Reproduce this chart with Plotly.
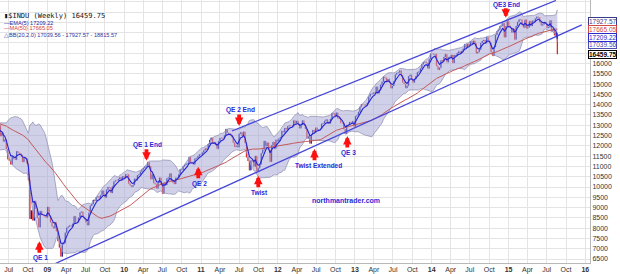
import pandas as pd
import numpy as np
import plotly.graph_objects as go

# ---------------- data (weekly closes, $INDU) ----------------
start_week = "2007-06-08"      # first weekly close (warm-up for the indicators)
visible_from = "2008-05-16"

closes_warmup = [13424, 13639, 13360, 13408, 13611, 13907, 13851, 13265, 13182, 13240,
                 13079, 13379, 13358, 13113, 13442, 13821, 13896, 14066, 14093, 13522,
                 13807, 13595, 13043, 13177, 12981, 13372, 13626, 13340, 13451, 13366,
                 12800, 12606, 12099, 12207, 12743, 12183, 12349, 12381, 12266, 11894,
                 11951, 12361, 12216, 12609, 12325, 12849, 12891, 13058, 12745]
closes_2008 = [12986, 12479, 12638, 12209, 12307, 11843, 11346, 11288, 11100, 11496,
               11370, 11326, 11734, 11659, 11628, 11543, 11220, 11421, 11388, 11143,
               10325, 8451, 8852, 8378, 9325, 8943, 8497, 8046, 8829, 8635,
               8629, 8579, 8515]
closes_2009 = [9034, 8599, 8281, 8077, 8000, 8280, 7850, 7366, 7063, 6627,
               7224, 7279, 7776, 8018, 8083, 8131, 8076, 8212, 8575, 8268,
               8277, 8500, 8764, 8799, 8539, 8438, 8280, 8146, 8743, 9093,
               9172, 9370, 9321, 9505, 9544, 9441, 9605, 9820, 9665, 9488,
               9865, 9996, 9972, 9713, 10023, 10270, 10318, 10310, 10389, 10471,
               10329, 10520, 10428]
closes_2010 = [10619, 10610, 10173, 10067, 10012, 10099, 10402, 10325, 10567, 10625,
               10742, 10851, 10928, 10998, 11019, 11205, 11009, 10380, 10620, 10193,
               10137, 9932, 10212, 10451, 10144, 9686, 10198, 10097, 10425, 10466,
               10654, 10303, 10213, 10150, 10448, 10462, 10607, 10860, 10830, 11006,
               11063, 11133, 11118, 11445, 11193, 11204, 11092, 11382, 11411, 11492,
               11573, 11578]
closes_2011 = [11675, 11787, 11872, 11824, 12092, 12273, 12391, 12130, 12170, 12044,
               11859, 12221, 12377, 12380, 12342, 12505, 12811, 12638, 12596, 12512,
               12441, 12151, 11952, 12004, 11934, 12583, 12657, 12479, 12681, 12143,
               11444, 11269, 10818, 11285, 11240, 10992, 11509, 10771, 10913, 11103,
               11644, 11809, 12231, 11983, 12153, 11796, 11231, 12019, 12184, 11866,
               12294, 12218]
closes_2012 = [12360, 12422, 12720, 12660, 12862, 12801, 12950, 12983, 12978, 12922,
               13233, 13081, 13212, 13060, 12850, 13029, 13228, 13038, 12821, 12369,
               12454, 12119, 12554, 12767, 12640, 12880, 12772, 12777, 12823, 13075,
               13096, 13207, 13275, 13157, 13090, 13306, 13593, 13579, 13437, 13610,
               13328, 13343, 13107, 13093, 12815, 12588, 13009, 13025, 13155, 13135,
               13190, 12938]
closes_2013 = [13435, 13488, 13649, 13896, 14009, 13993, 13982, 14001, 14090, 14397,
               14515, 14512, 14579, 14565, 14865, 14548, 14713, 14974, 15118, 15354,
               15303, 15116, 15248, 15070, 14800, 14910, 15136, 15464, 15544, 15559,
               15658, 15425, 15081, 15010, 14810, 14922, 15376, 15451, 15258, 15072,
               15237, 15399, 15570, 15615, 15761, 15962, 16064, 16086, 16020, 15755,
               16221, 16479]
closes_2014 = [16470, 16437, 16458, 15879, 15699, 15794, 16154, 16103, 16322, 16453,
               16066, 16303, 16323, 16413, 16027, 16409, 16361, 16513, 16584, 16492,
               16606, 16717, 16924, 16776, 16948, 16852, 17068, 16944, 17100, 16961,
               16493, 16554, 16663, 17001, 17098, 17138, 16988, 17280, 17113, 17010,
               16544, 16380, 16805, 17391, 17573, 17635, 17810, 17828, 17959, 17281,
               17805, 18053]
closes_2015 = [17833, 17737, 17512, 17673, 17165, 17825, 18019, 18140, 18133, 17857,
               17749, 18128, 17713, 17763, 18058, 17826, 18080, 18024, 18191, 18272,
               18232, 18011, 17849, 17899, 18016, 17947, 17730, 17760, 18086, 17568,
               17690, 17373, 17477, 16460]

# trend channel lines (start/end)
lower_line_dates = ["2009-01-24", "2015-12-15"]
lower_line_vals = [6211, 17881]
upper_line_dates = ["2011-05-28", "2015-08-14"]
upper_line_vals = [12721, 19062]

# event annotations
event_labels = ["QE 1", "QE 1 End", "QE 2", "QE 2 End", "Twist", "Twist Extended", "QE 3", "QE3 End"]
event_dates = ["2008-11-24", "2010-04-17", "2010-12-19", "2011-07-01", "2011-09-30", "2012-06-23", "2012-11-26", "2014-12-19"]
event_vals = [7368, 11274, 10985, 12962, 10551, 11853, 12480, 18218]
event_dirs = ["up", "down", "up", "down", "up", "up", "up", "down"]

# legend text and right-side value tags
legend_lines = ["\u25AE$INDU (Weekly) 16459.75", "\u2014EMA(5) 17209.22", "\u2014MA(50) 17665.05",
                "\u25B3BB(20,2.0) 17039.56 - 17927.57 - 18815.57"]
tag_vals = [17927.57, 17665.05, 17039.56, 17209.22, 16459.75]
tag_colors = ["#3a3a8a", "#d04848", "#4a4ab0", "#2a2ac8", "#000000"]

y_ticks = list(range(6500, 19001, 500))
y_ticktext = [str(v) if v <= 16000 else "" for v in y_ticks]
y_ticktext[-1] = "10"

# ---------------- build series ----------------
closes = (closes_warmup + closes_2008 + closes_2009 + closes_2010 + closes_2011 +
          closes_2012 + closes_2013 + closes_2014 + closes_2015)
dates = pd.date_range(start_week, periods=len(closes), freq="W-FRI")
s = pd.Series(closes, index=dates, dtype=float)
ema5 = s.ewm(span=5, adjust=False).mean()
ma50 = s.rolling(50).mean()
mid20 = s.rolling(20).mean()
sd20 = s.rolling(20).std(ddof=0)
bb_up = mid20 + 2 * sd20
bb_lo = mid20 - 2 * sd20
opens = s.shift(1)

vis = dates >= pd.Timestamp(visible_from) - pd.Timedelta(days=7)
d = dates[vis]
o = opens[vis]
c = s[vis]
hi = np.maximum(o, c)
lo = np.minimum(o, c)

fig = go.Figure()
fig.add_trace(go.Scatter(x=d, y=bb_up[vis], mode="lines", line=dict(color="#9696b8", width=0.8),
                         hoverinfo="skip", showlegend=False))
fig.add_trace(go.Scatter(x=d, y=bb_lo[vis], mode="lines", line=dict(color="#9696b8", width=0.8),
                         fill="tonexty", fillcolor="rgba(165,165,212,0.52)", hoverinfo="skip", showlegend=False))
fig.add_trace(go.Scatter(x=d, y=ma50[vis], mode="lines", line=dict(color="#c45a5a", width=1),
                         hoverinfo="skip", showlegend=False))
fig.add_trace(go.Scatter(x=lower_line_dates, y=lower_line_vals, mode="lines",
                         line=dict(color="#4646d8", width=1.3), showlegend=False))
fig.add_trace(go.Scatter(x=upper_line_dates, y=upper_line_vals, mode="lines",
                         line=dict(color="#4646d8", width=1.3), showlegend=False))
fig.add_trace(go.Scatter(x=d, y=ema5[vis], mode="lines", line=dict(color="#2323d6", width=1.1),
                         hoverinfo="skip", showlegend=False))
fig.add_trace(go.Ohlc(x=d, open=o, high=hi, low=lo, close=c,
                      increasing=dict(line=dict(color="#1a1a9a", width=1.3)),
                      decreasing=dict(line=dict(color="#e02828", width=1.3)),
                      tickwidth=0.2, showlegend=False))

ann = []
for lab, dt, v, dr in zip(event_labels, event_dates, event_vals, event_dirs):
    top = lab == "QE3 End"
    alen = 11 if top else 13
    tsh = 13 if top else 16
    ay = -alen if dr == "down" else alen
    ann.append(dict(x=dt, y=v, xref="x", yref="y", text="", showarrow=True, ax=0, ay=ay,
                    arrowcolor="#ff1010", arrowwidth=3.8, arrowhead=2, arrowsize=0.45, standoff=0))
    ann.append(dict(x=dt, y=v, xref="x", yref="y", text="<b>%s</b>" % lab, showarrow=False,
                    yshift=(tsh if dr == "down" else -tsh - 1), xshift=(4 if lab == "Twist Extended" else 1),
                    font=dict(family="Liberation Sans, Arial", size=6.5, color="#2a2ad8")))
ann.append(dict(x="2012-11-20", y=9345, xref="x", yref="y", text="<b>northmantrader.com</b>",
                showarrow=False, font=dict(family="Liberation Sans, Arial", size=7, color="#2a2ad8")))

leg_y = [15.7, 22.7, 28.3, 35.7]
leg_font = [dict(family="DejaVu Sans Mono", size=7, color="#111111"),
            dict(family="Liberation Sans, Arial", size=5.6, color="#2424a8"),
            dict(family="Liberation Sans, Arial", size=5.6, color="#d03c3c"),
            dict(family="Liberation Sans, Arial", size=5.6, color="#3030a0")]
for txt, yy, f in zip(legend_lines, leg_y, leg_font):
    ann.append(dict(x=0.004, y=1 - yy / 265.0, xref="paper", yref="paper", text=txt, showarrow=False,
                    xanchor="left", yanchor="middle", font=f))

tag_shift = [2, 0, -2, 1, 0]
for v, col, sh in zip(tag_vals, tag_colors, tag_shift):
    bold = col == "#000000"
    ann.append(dict(x=1, y=v, xref="paper", yref="y", text=("<b>%.2f</b>" if bold else "%.2f") % v,
                    showarrow=False, xanchor="left", yanchor="middle", xshift=-2, yshift=sh,
                    bgcolor="white", bordercolor=col, borderwidth=1, borderpad=0,
                    font=dict(family="Liberation Sans, Arial", size=6.5, color=col)))

# x ticks: quarterly
qdates = pd.date_range("2008-07-01", "2016-01-01", freq="QS-JAN")
mon = {1: None, 4: "Apr", 7: "Jul", 10: "Oct"}
xt = [("<b>%02d</b>" % (q.year % 100)) if q.month == 1 else mon[q.month] for q in qdates]

fig.update_layout(
    width=620, height=274,
    margin=dict(l=0, r=30, t=0, b=9),
    paper_bgcolor="white", plot_bgcolor="white",
    showlegend=False,
    annotations=ann,
    xaxis=dict(range=["2008-05-21", "2016-01-23"], tickvals=list(qdates), ticktext=xt,
               showgrid=True, gridcolor="#e4e4e4", gridwidth=1, zeroline=False,
               showline=True, linecolor="#b8b8b8", ticks="",
               tickfont=dict(family="Liberation Sans, Arial", size=7, color="#333333"),
               rangeslider=dict(visible=False), fixedrange=True),
    yaxis=dict(side="right", range=[6307, 19086], tickvals=y_ticks, ticktext=y_ticktext,
               showgrid=True, gridcolor="#e4e4e4", gridwidth=1, zeroline=False,
               showline=True, linecolor="#b8b8b8", ticks="",
               tickfont=dict(family="Liberation Sans, Arial", size=7, color="#333333")),
)

fig.write_html("out.html", config={"displayModeBar": False})
